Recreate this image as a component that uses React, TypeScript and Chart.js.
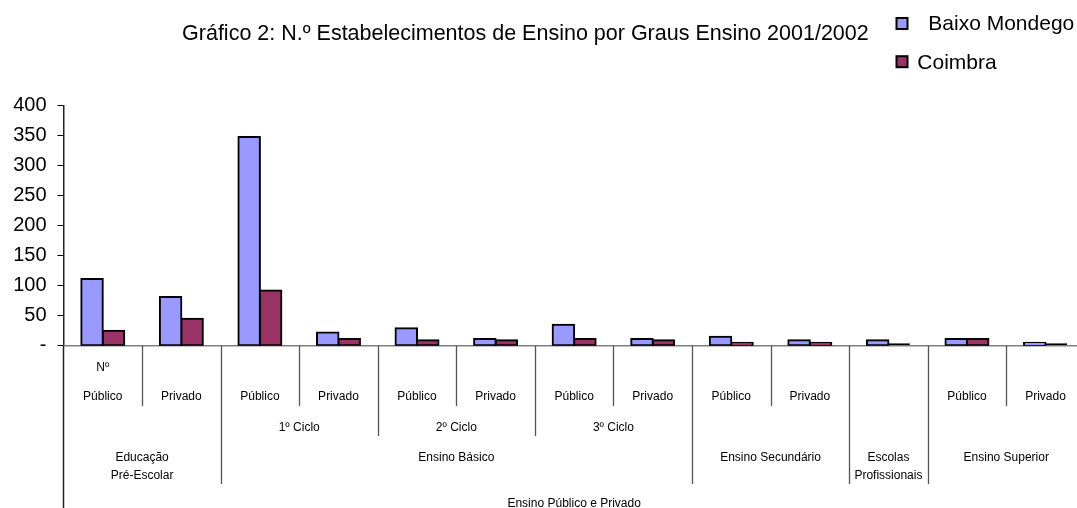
import React, { useEffect, useRef } from 'react';
import { Chart, registerables } from 'chart.js';

Chart.register(...registerables);

const FONT = "'Liberation Sans', Arial, Helvetica, sans-serif";

const chartTitle = 'Gráfico 2: N.º Estabelecimentos de Ensino por Graus Ensino 2001/2002';
const seriesNames = ['Baixo Mondego', 'Coimbra'];
const seriesColors = ['#9999FF', '#993366'];

// Category hierarchy (innermost first)
const unitLabels = ['Nº', '', '', '', '', '', '', '', '', '', '', '', ''];
const level1Labels = ['Público', 'Privado', 'Público', 'Privado', 'Público', 'Privado', 'Público', 'Privado', 'Público', 'Privado', '', 'Público', 'Privado'];
const level2Labels = ['', '', '1º Ciclo', '1º Ciclo', '2º Ciclo', '2º Ciclo', '3º Ciclo', '3º Ciclo', '', '', '', '', ''];
const level3Labels = [
  'Educação\nPré-Escolar', 'Educação\nPré-Escolar',
  'Ensino Básico', 'Ensino Básico', 'Ensino Básico', 'Ensino Básico', 'Ensino Básico', 'Ensino Básico',
  'Ensino Secundário', 'Ensino Secundário',
  'Escolas\nProfissionais',
  'Ensino Superior', 'Ensino Superior',
];
const level4Label = 'Ensino Público e Privado';

// Series values
const baixoMondego = [111, 81, 348, 22, 29, 11, 35, 11, 15, 9, 9, 11, 5];
const coimbra = [25, 45, 92, 11, 9, 9, 11, 9, 5, 5, 4, 11, 4];

// Y ticks
const yMin = 0;
const yMax = 400;
const yStep = 50;
const zeroTickLabel = '-';

function spans(labels: string[]) {
  const out: { label: string; start: number; end: number }[] = [];
  let i = 0;
  while (i < labels.length) {
    let j = i;
    while (j + 1 < labels.length && labels[j + 1] === labels[i]) j++;
    if (labels[i]) out.push({ label: labels[i], start: i, end: j });
    i = j + 1;
  }
  return out;
}

// emulate borders centred on the bar edge (only when the bar is tall enough)
const centredBorder = (c: any) => {
  const y = c.chart.scales.y;
  if (!y || typeof c.raw !== 'number') return 1;
  const h = y.getPixelForValue(0) - y.getPixelForValue(c.raw);
  return h > 2.7 ? 1 : 0;
};

const hierarchyPlugin = {
  id: 'hierarchy',
  beforeDatasetsDraw(chart: any) {
    const { ctx, chartArea } = chart;
    ctx.save();
    ctx.strokeStyle = '#808080';
    ctx.lineWidth = 1.5;
    ctx.beginPath();
    ctx.moveTo(chartArea.left, chartArea.bottom);
    ctx.lineTo(chartArea.right, chartArea.bottom);
    ctx.stroke();
    ctx.restore();
  },
  afterDraw(chart: any) {
    const { ctx, chartArea, scales } = chart;
    const xs = scales.x;
    const n = level1Labels.length;
    const cw = xs.getPixelForValue(1) - xs.getPixelForValue(0);
    const edge = (k: number) => xs.getPixelForValue(k) - cw / 2;
    const b = chartArea.bottom;

    ctx.save();
    // left axis extension
    ctx.strokeStyle = '#222';
    ctx.lineWidth = 1.5;
    ctx.beginPath();
    ctx.moveTo(chartArea.left, b);
    ctx.lineTo(chartArea.left, chart.height);
    ctx.stroke();

    // separators
    ctx.strokeStyle = '#555';
    ctx.lineWidth = 1.3;
    for (let k = 1; k < n; k++) {
      let end = b + 60.3;
      if (level3Labels[k] !== level3Labels[k - 1]) end = b + 138.3;
      else if (level2Labels[k] !== level2Labels[k - 1]) end = b + 90.3;
      const x = Math.round(edge(k)) + 0.5;
      ctx.beginPath();
      ctx.moveTo(x, b);
      ctx.lineTo(x, end);
      ctx.stroke();
    }

    ctx.fillStyle = '#000';
    ctx.textAlign = 'center';
    ctx.textBaseline = 'middle';
    ctx.font = `12px ${FONT}`;
    for (let i = 0; i < n; i++) {
      const cx = xs.getPixelForValue(i);
      if (unitLabels[i]) ctx.fillText(unitLabels[i], cx, b + 22);
      if (level1Labels[i]) ctx.fillText(level1Labels[i], cx, b + 51);
    }
    spans(level2Labels).forEach((s) => {
      const cx = (edge(s.start) + edge(s.end + 1)) / 2;
      ctx.fillText(s.label, cx, b + 81.6);
    });
    spans(level3Labels).forEach((s) => {
      const cx = (edge(s.start) + edge(s.end + 1)) / 2;
      s.label.split('\n').forEach((line, li) => ctx.fillText(line, cx, b + 111.6 + li * 18));
    });
    ctx.fillText(level4Label, (edge(0) + edge(n)) / 2, b + 157.5);

    // title
    ctx.font = `21.5px ${FONT}`;
    ctx.textBaseline = 'alphabetic';
    ctx.textAlign = 'center';
    ctx.fillText(chartTitle, 525.4, 39.5);

    // legend
    const legendY = [24, 62.2];
    const legendTextX = [928.3, 917.3];
    ctx.font = `21px ${FONT}`;
    ctx.textAlign = 'left';
    seriesNames.forEach((name, i) => {
      ctx.fillStyle = seriesColors[i];
      ctx.fillRect(896.5, legendY[i] - 6, 11, 11);
      ctx.strokeStyle = '#000';
      ctx.lineWidth = 2;
      ctx.strokeRect(896.5, legendY[i] - 6, 11, 11);
      ctx.fillStyle = '#000';
      ctx.fillText(name, legendTextX[i], legendY[i] + 6.3);
    });
    ctx.restore();
  },
};

export default function App() {
  const ref = useRef<HTMLCanvasElement>(null);
  useEffect(() => {
    document.body.style.margin = '0';
    const chart = new Chart(ref.current as HTMLCanvasElement, {
      type: 'bar',
      data: {
        labels: level1Labels,
        datasets: [
          {
            label: seriesNames[0],
            data: baixoMondego,
            backgroundColor: seriesColors[0],
            borderColor: '#000',
            borderWidth: 2,
            borderSkipped: false,
            inflateAmount: centredBorder,
          },
          {
            label: seriesNames[1],
            data: coimbra,
            backgroundColor: seriesColors[1],
            borderColor: '#000',
            borderWidth: 2,
            borderSkipped: false,
            inflateAmount: centredBorder,
          },
        ],
      },
      options: {
        responsive: false,
        animation: false,
        devicePixelRatio: 1,
        layout: { padding: { top: 105.7, bottom: 162.3, left: 0, right: 5.2 } },
        datasets: { bar: { categoryPercentage: 0.547, barPercentage: 1 } },
        plugins: {
          legend: { display: false },
          title: { display: false },
          tooltip: { enabled: false },
        },
        scales: {
          x: { display: false },
          y: {
            min: yMin,
            max: yMax,
            afterFit: (s: any) => {
              s.width = 63.5;
            },
            ticks: {
              stepSize: yStep,
              color: '#000',
              padding: 11,
              font: { family: FONT, size: 20 },
              callback: (v: any) => (Number(v) === 0 ? zeroTickLabel : String(v)),
            },
            grid: {
              drawOnChartArea: false,
              drawTicks: true,
              tickLength: 6,
              color: '#000',
              lineWidth: 1,
            },
            border: { display: true, color: '#222', width: 1.5 },
          },
        },
      },
      plugins: [hierarchyPlugin],
    });
    return () => chart.destroy();
  }, []);
  return (
    <div style={{ position: 'fixed', left: 0, top: 0, width: 1077, height: 508, overflow: 'hidden', background: '#fff' }}>
      <canvas ref={ref} width={1090} height={508} style={{ display: 'block', width: 1090, height: 508 }} />
    </div>
  );
}
